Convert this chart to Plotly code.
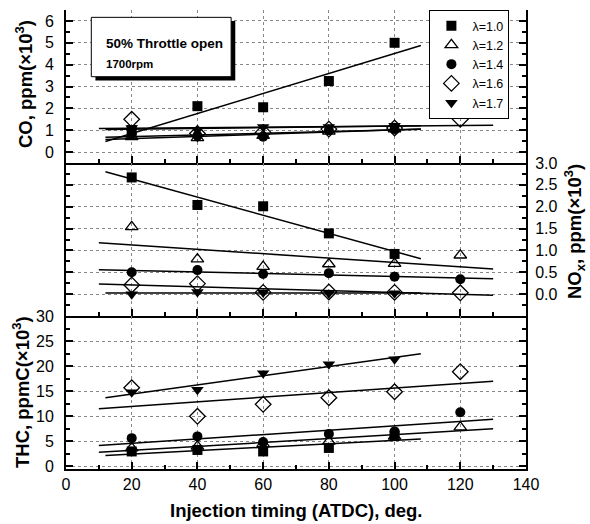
import numpy as np
import plotly.graph_objects as go
from plotly.subplots import make_subplots

# ---------------- data ----------------
timing_5 = [20, 40, 60, 80, 100]
timing_6 = [20, 40, 60, 80, 100, 120]

lambdas = ["λ=1.0", "λ=1.2", "λ=1.4", "λ=1.6", "λ=1.7"]

# CO, ppm (x10^3)
co_l10 = [1.0, 2.1, 2.05, 3.25, 5.0]
co_l12 = [0.7, 0.65, 0.75, 0.95, 1.05]
co_l14 = [0.8, 0.75, 0.7, 1.0, 1.05]
co_l16 = [1.5, 0.85, 0.9, 1.05, 1.1, 1.5]
co_l17 = [1.1, 1.0, 1.15, 1.15, 1.2]

# NOx, ppm (x10^3)
nox_l10 = [2.67, 2.04, 2.01, 1.39, 0.92]
nox_l12 = [1.54, 0.80, 0.63, 0.69, 0.70, 0.89]
nox_l14 = [0.50, 0.55, 0.46, 0.48, 0.40, 0.34]
nox_l16 = [0.21, 0.24, 0.04, 0.05, 0.04, 0.03]
nox_l17 = [0.0, 0.05, 0.04, 0.02, 0.02]

# THC, ppmC (x10^3)
thc_l10 = [3.0, 3.3, 3.0, 3.7, 6.2]
thc_l12 = [3.66, 4.0, 4.5, 5.0, 6.0, 7.85]
thc_l14 = [5.65, 6.0, 4.86, 6.5, 7.0, 10.8]
thc_l16 = [15.7, 10.0, 12.4, 13.7, 14.9, 18.9]
thc_l17 = [14.8, 15.3, 18.6, 20.4, 21.4]

# tick labels
co_ticks = [0, 1, 2, 3, 4, 5, 6]
nox_ticks = [0.0, 0.5, 1.0, 1.5, 2.0, 2.5, 3.0]
thc_ticks = [0, 5, 10, 15, 20, 25, 30]
x_ticks = [0, 20, 40, 60, 80, 100, 120, 140]

# ---------------- styles ----------------
FONT = "Arial, 'Liberation Sans', sans-serif"
marker_styles = [
    dict(symbol="square", size=10, color="black"),
    dict(symbol="triangle-up-open", size=11, color="black", line=dict(width=1.3, color="black")),
    dict(symbol="circle", size=10, color="black"),
    dict(symbol="diamond-open", size=12, color="black", line=dict(width=1.3, color="black")),
    dict(symbol="triangle-down", size=11, color="black"),
]

panels = [
    ([timing_5, timing_5, timing_5, timing_6, timing_5],
     [co_l10, co_l12, co_l14, co_l16, co_l17]),
    ([timing_5, timing_6, timing_6, timing_6, timing_5],
     [nox_l10, nox_l12, nox_l14, nox_l16, nox_l17]),
    ([timing_5, timing_6, timing_6, timing_6, timing_5],
     [thc_l10, thc_l12, thc_l14, thc_l16, thc_l17]),
]

fig = make_subplots(rows=3, cols=1, shared_xaxes=True, vertical_spacing=0)

for row, (xs_list, ys_list) in enumerate(panels, start=1):
    for xs, ys in zip(xs_list, ys_list):
        xs_a = np.array(xs, float)
        ys_a = np.array(ys, float)
        k, b = np.polyfit(xs_a, ys_a, 1)
        span = xs_a.max() - xs_a.min()
        xl = np.array([xs_a.min() - 0.1 * span, xs_a.max() + 0.1 * span])
        fig.add_trace(go.Scatter(x=xl, y=k * xl + b, mode="lines",
                                 line=dict(color="black", width=1.5),
                                 showlegend=False, hoverinfo="skip"),
                      row=row, col=1)
    for i, (xs, ys) in enumerate(zip(xs_list, ys_list)):
        fig.add_trace(go.Scatter(x=xs, y=ys, mode="markers", name=lambdas[i],
                                 marker=marker_styles[i],
                                 showlegend=(row == 1)),
                      row=row, col=1)

axis_common = dict(
    showline=True, linecolor="black", linewidth=2,
    ticks="inside", ticklen=7, tickwidth=1.5, tickcolor="black",
    showgrid=True, gridcolor="#888", griddash="dot", gridwidth=1,
    zeroline=False,
    tickfont=dict(family=FONT, size=16, color="black"),
)

for r in (1, 2, 3):
    fig.update_xaxes(range=[0, 140], tickvals=x_ticks,
                     minor=dict(dtick=10, tick0=0, ticks="inside", ticklen=4, tickcolor="black", showgrid=False),
                     showticklabels=(r == 3), mirror=False, ticklabelstandoff=0,
                     row=r, col=1, **axis_common)

fig.update_yaxes(range=[-0.5, 6.5], tickvals=co_ticks,
                 minor=dict(dtick=0.5, tick0=0, ticks="inside", ticklen=4, tickcolor="black", showgrid=False),
                 mirror="ticks", ticklabelstandoff=7, row=1, col=1, **axis_common)
fig.update_yaxes(range=[-0.5, 3.0], tickvals=nox_ticks, ticktext=[f"{v:.1f}" for v in nox_ticks],
                 side="right",
                 minor=dict(dtick=0.25, tick0=0, ticks="inside", ticklen=4, tickcolor="black", showgrid=False),
                 mirror="ticks", ticklabelstandoff=4, row=2, col=1, **axis_common)
fig.update_yaxes(range=[-0.5, 30], tickvals=thc_ticks,
                 minor=dict(dtick=2.5, tick0=0, ticks="inside", ticklen=4, tickcolor="black", showgrid=False),
                 mirror="ticks", ticklabelstandoff=7, row=3, col=1, **axis_common)

# throttle box with shadow
fig.add_shape(type="rect", xref="x domain", yref="y domain",
              x0=0.064, x1=0.368, y0=0.539, y1=0.928,
              fillcolor="black", line=dict(width=0), layer="above")
fig.add_shape(type="rect", xref="x domain", yref="y domain",
              x0=0.055, x1=0.359, y0=0.564, y1=0.952,
              fillcolor="white", line=dict(color="black", width=1), layer="above")

title_font = dict(family=FONT, size=18.5, color="black", weight="bold")
annotations = [
    dict(text="50% Throttle open", xref="x domain", yref="y domain", x=0.083, y=0.784,
         xanchor="left", yanchor="middle", showarrow=False,
         font=dict(family=FONT, size=13.5, color="black", weight="bold")),
    dict(text="1700rpm", xref="x domain", yref="y domain", x=0.083, y=0.647,
         xanchor="left", yanchor="middle", showarrow=False,
         font=dict(family=FONT, size=11.5, color="black", weight="bold")),
    dict(text="CO, ppm(×10<sup>3</sup>)", xref="paper", yref="paper",
         x=(24 - 66) / 460, y=(469 - 84) / 459, textangle=-90,
         xanchor="center", yanchor="middle", showarrow=False, font=title_font),
    dict(text="NO<sub>x</sub>, ppm(×10<sup>3</sup>)", xref="paper", yref="paper",
         x=(575 - 66) / 460, y=(469 - 232) / 459, textangle=-90,
         xanchor="center", yanchor="middle", showarrow=False, font=title_font),
    dict(text="THC, ppmC(×10<sup>3</sup>)", xref="paper", yref="paper",
         x=(21 - 66) / 460, y=(469 - 392) / 459, textangle=-90,
         xanchor="center", yanchor="middle", showarrow=False, font=title_font),
    dict(text="Injection timing (ATDC), deg.", xref="paper", yref="paper",
         x=0.5, y=(469 - 511) / 459,
         xanchor="center", yanchor="middle", showarrow=False, font=title_font),
]

fig.update_layout(
    width=590, height=524,
    margin=dict(l=66, r=64, t=10, b=55, autoexpand=False),
    paper_bgcolor="white", plot_bgcolor="white",
    annotations=annotations,
    legend=dict(x=0.79, y=1, xanchor="left", yanchor="top",
                bgcolor="white", bordercolor="black", borderwidth=1,
                font=dict(family=FONT, size=12.5, color="black"),
                itemsizing="trace", itemwidth=32, tracegroupgap=0),
)

fig.write_html("out.html")
